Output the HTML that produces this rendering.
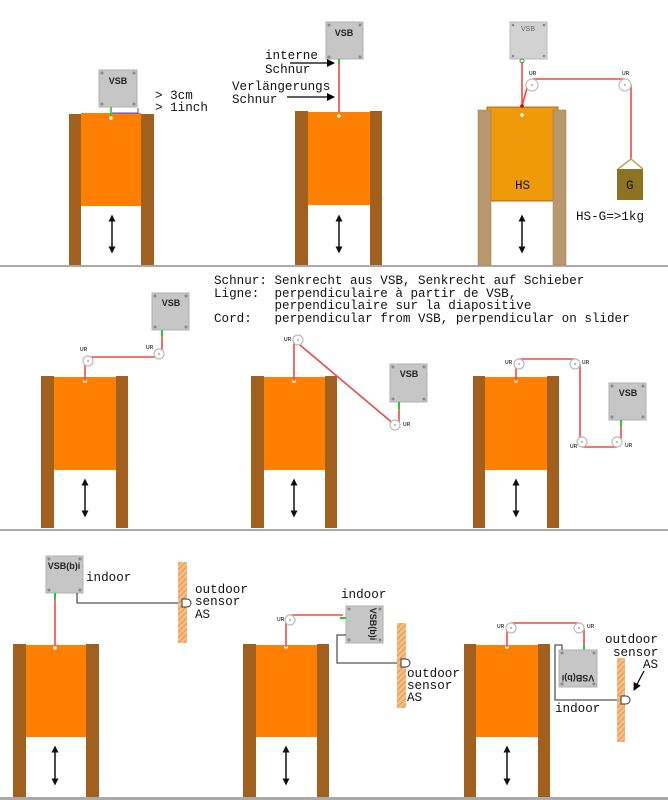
<!DOCTYPE html>
<html><head><meta charset="utf-8"><style>
html,body{margin:0;padding:0;background:#fff;}
svg{display:block;}
.m{font-family:"Liberation Mono",monospace;font-size:12.6px;fill:#111;white-space:pre;}
.v{font-family:"Liberation Sans",sans-serif;font-weight:bold;font-size:9px;fill:#222;}
.ur{font-family:"Liberation Sans",sans-serif;font-size:5px;fill:#444;font-weight:bold;}
.post{fill:#a2601f;}
.door{fill:#ff8000;}
.box{fill:#c6c6c6;stroke:#b0b0b0;stroke-width:1;}
.cd{fill:#888;}
.r{stroke:#f04848;stroke-width:1.6;fill:none;}
.g{stroke:#555;stroke-width:1.3;fill:none;}
.pul{fill:#fff;stroke:#bbb;stroke-width:1.2;}
.wall{fill:url(#hatch);}
</style></head><body>
<svg width="668" height="800" viewBox="0 0 668 800" xmlns="http://www.w3.org/2000/svg" xml:space="preserve">
<defs>
<pattern id="hatch" width="4" height="4" patternUnits="userSpaceOnUse" patternTransform="rotate(45)">
<rect width="4" height="4" fill="#f8bf84"/><rect width="1.5" height="4" fill="#eaa060"/>
</pattern>
<marker id="ah" markerWidth="8" markerHeight="8" refX="7" refY="4" orient="auto" markerUnits="userSpaceOnUse"><path d="M0,0 L8,4 L0,8 z" fill="#000"/></marker>
<marker id="ab" markerWidth="7" markerHeight="7" refX="3.5" refY="3.5" orient="auto-start-reverse" markerUnits="userSpaceOnUse"><path d="M0,0 L7,3.5 L0,7 z" fill="#111"/></marker>
</defs>

<rect x="0" y="265" width="668" height="2" fill="#aaa"/>
<rect x="0" y="529" width="668" height="2" fill="#aaa"/>
<rect x="0" y="797" width="668" height="3" fill="#aaa"/>

<!-- ROW 1 -->
<rect class="door" x="81" y="113" width="60" height="93"/>
<rect class="post" x="69" y="114" width="12" height="151"/>
<rect class="post" x="141" y="114" width="13" height="151"/>
<circle cx="111" cy="118" r="1.8" fill="#fff"/>
<rect class="box" x="99" y="70" width="38" height="37"/>
<circle class="cd" cx="102" cy="73" r="1.5"/><circle class="cd" cx="134" cy="73" r="1.5"/><circle class="cd" cx="102" cy="104" r="1.5"/><circle class="cd" cx="134" cy="104" r="1.5"/>
<text class="v" x="118" y="84" text-anchor="middle">VSB</text>
<line x1="111" y1="107" x2="111" y2="116" stroke="#2c2" stroke-width="1.6"/>
<path d="M112,113 H138 M138,108 V114" stroke="#44f" stroke-width="1" fill="none"/>
<text class="m" x="155" y="99">&gt; 3cm</text>
<text class="m" x="155" y="111">&gt; 1inch</text>
<line x1="112" y1="218" x2="112" y2="250" stroke="#111" stroke-width="1.5" marker-start="url(#ab)" marker-end="url(#ab)"/>

<rect class="door" x="308" y="112" width="62" height="93"/>
<rect class="post" x="295" y="111" width="13" height="154"/>
<rect class="post" x="370" y="111" width="12" height="154"/>
<circle cx="339" cy="116" r="1.8" fill="#fff"/>
<rect class="box" x="326" y="22" width="37" height="37"/>
<circle class="cd" cx="329" cy="25" r="1.5"/><circle class="cd" cx="360" cy="25" r="1.5"/><circle class="cd" cx="329" cy="57" r="1.5"/><circle class="cd" cx="360" cy="57" r="1.5"/>
<text class="v" x="344" y="36" text-anchor="middle">VSB</text>
<line x1="339" y1="64" x2="339" y2="112" class="r"/>
<line x1="339" y1="59" x2="339" y2="64" stroke="#2c2" stroke-width="2"/>
<text class="m" x="265" y="59">interne</text>
<text class="m" x="265" y="73">Schnur</text>
<line x1="290" y1="63" x2="334" y2="63" stroke="#000" stroke-width="1.2" marker-end="url(#ah)"/>
<text class="m" x="232" y="90">Verlängerungs</text>
<text class="m" x="232" y="103">Schnur</text>
<line x1="287" y1="97" x2="334" y2="97" stroke="#000" stroke-width="1.2" marker-end="url(#ah)"/>
<line x1="339" y1="218" x2="339" y2="250" stroke="#111" stroke-width="1.5" marker-start="url(#ab)" marker-end="url(#ab)"/>

<rect x="487" y="107" width="71" height="94" fill="#f09a0a" stroke="#8a5a10" stroke-width="0.8"/>
<rect x="478" y="110" width="13" height="155" fill="#b8986c" stroke="#9a7a50" stroke-width="0.5"/>
<rect x="553" y="110" width="13" height="155" fill="#b8986c" stroke="#9a7a50" stroke-width="0.5"/>
<circle cx="522" cy="115" r="1.8" fill="#fff"/>
<rect x="510" y="22" width="37" height="37" fill="#d2d2d2" stroke="#bbb"/>
<circle class="cd" cx="513" cy="25" r="1.3"/><circle class="cd" cx="544" cy="25" r="1.3"/><circle class="cd" cx="513" cy="56" r="1.3"/><circle class="cd" cx="544" cy="56" r="1.3"/>
<text x="528" y="31" text-anchor="middle" font-family="Liberation Sans,sans-serif" font-size="7" fill="#666">VSB</text>
<line x1="522" y1="62" x2="522" y2="106" class="r"/>
<line x1="522" y1="106" x2="527" y2="88" class="r"/>
<line x1="532" y1="79" x2="625" y2="79" class="r"/>
<line x1="631" y1="85" x2="631" y2="160" class="r"/>
<circle cx="522" cy="106" r="1.8" fill="#c00"/>
<circle cx="522" cy="61" r="2" fill="none" stroke="#2a2" stroke-width="1"/>
<circle class="pul" cx="532" cy="85" r="6"/><circle cx="532" cy="85" r="1" fill="#aaa"/>
<circle class="pul" cx="625" cy="85" r="6"/><circle cx="625" cy="85" r="1" fill="#aaa"/>
<text class="ur" x="529" y="75">UR</text><text class="ur" x="622" y="75">UR</text>
<path d="M618,169 L631,159 L643,169" fill="none" stroke="#c0a060" stroke-width="1.5"/>
<rect x="617" y="169" width="26" height="31" fill="#8b7322"/>
<text class="m" x="626" y="189">G</text>
<text class="m" x="515" y="189">HS</text>
<text class="m" x="576" y="220">HS-G=&gt;1kg</text>
<line x1="522" y1="218" x2="522" y2="250" stroke="#111" stroke-width="1.5" marker-start="url(#ab)" marker-end="url(#ab)"/>

<!-- ROW 2 -->
<text class="m" x="214" y="284">Schnur: Senkrecht aus VSB, Senkrecht auf Schieber</text>
<text class="m" x="214" y="297">Ligne:  perpendiculaire à partir de VSB,</text>
<text class="m" x="214" y="309">        perpendiculaire sur la diapositive</text>
<text class="m" x="214" y="322">Cord:   perpendicular from VSB, perpendicular on slider</text>

<rect class="door" x="54" y="377" width="62" height="93"/>
<rect class="post" x="41" y="376" width="13" height="152"/>
<rect class="post" x="116" y="376" width="12" height="152"/>
<circle cx="85" cy="381" r="1.8" fill="#fff"/>
<path class="r" d="M85,381 V361 M88,357 H158 M162,354 V332"/>
<circle class="pul" cx="88" cy="361" r="5"/><circle cx="88" cy="361" r="1" fill="#aaa"/>
<circle class="pul" cx="159" cy="354" r="5"/><circle cx="159" cy="354" r="1" fill="#aaa"/>
<text class="ur" x="80" y="351">UR</text><text class="ur" x="146" y="349">UR</text>
<rect class="box" x="152" y="293" width="37" height="37"/>
<circle class="cd" cx="155" cy="296" r="1.5"/><circle class="cd" cx="186" cy="296" r="1.5"/><circle class="cd" cx="155" cy="327" r="1.5"/><circle class="cd" cx="186" cy="327" r="1.5"/>
<text class="v" x="171" y="306" text-anchor="middle">VSB</text>
<line x1="162" y1="330" x2="162" y2="336" stroke="#2c2" stroke-width="2"/>
<line x1="85" y1="482" x2="85" y2="514" stroke="#111" stroke-width="1.5" marker-start="url(#ab)" marker-end="url(#ab)"/>

<rect class="door" x="264" y="377" width="61" height="93"/>
<rect class="post" x="251" y="376" width="13" height="152"/>
<rect class="post" x="325" y="376" width="12" height="152"/>
<circle cx="294" cy="381" r="1.8" fill="#fff"/>
<path class="r" d="M294,381 V340 L395,425 M399,425 V406"/>
<circle class="pul" cx="298" cy="340" r="5"/><circle cx="298" cy="340" r="1" fill="#aaa"/>
<circle class="pul" cx="395" cy="425" r="5"/><circle cx="395" cy="425" r="1" fill="#aaa"/>
<text class="ur" x="284" y="341">UR</text><text class="ur" x="403" y="426">UR</text>
<rect class="box" x="390" y="364" width="37" height="38"/>
<circle class="cd" cx="393" cy="367" r="1.5"/><circle class="cd" cx="424" cy="367" r="1.5"/><circle class="cd" cx="393" cy="399" r="1.5"/><circle class="cd" cx="424" cy="399" r="1.5"/>
<text class="v" x="409" y="377" text-anchor="middle">VSB</text>
<line x1="399" y1="402" x2="399" y2="409" stroke="#2c2" stroke-width="2"/>
<line x1="294" y1="482" x2="294" y2="514" stroke="#111" stroke-width="1.5" marker-start="url(#ab)" marker-end="url(#ab)"/>

<rect class="door" x="485" y="377" width="62" height="93"/>
<rect class="post" x="473" y="376" width="12" height="152"/>
<rect class="post" x="547" y="376" width="12" height="152"/>
<circle cx="516" cy="381" r="1.8" fill="#fff"/>
<path class="r" d="M516,381 V364 M519,359 H575 M580,364 V442 M582,447 H617 M621,442 V422"/>
<circle class="pul" cx="519" cy="364" r="5"/><circle cx="519" cy="364" r="1" fill="#aaa"/>
<circle class="pul" cx="575" cy="364" r="5"/><circle cx="575" cy="364" r="1" fill="#aaa"/>
<circle class="pul" cx="582" cy="442" r="5"/><circle cx="582" cy="442" r="1" fill="#aaa"/>
<circle class="pul" cx="617" cy="442" r="5"/><circle cx="617" cy="442" r="1" fill="#aaa"/>
<text class="ur" x="505" y="364">UR</text><text class="ur" x="582" y="364">UR</text>
<text class="ur" x="570" y="448">UR</text><text class="ur" x="625" y="447">UR</text>
<rect class="box" x="609" y="383" width="37" height="37"/>
<circle class="cd" cx="612" cy="386" r="1.5"/><circle class="cd" cx="643" cy="386" r="1.5"/><circle class="cd" cx="612" cy="417" r="1.5"/><circle class="cd" cx="643" cy="417" r="1.5"/>
<text class="v" x="628" y="396" text-anchor="middle">VSB</text>
<line x1="621" y1="420" x2="621" y2="426" stroke="#2c2" stroke-width="2"/>
<line x1="516" y1="482" x2="516" y2="514" stroke="#111" stroke-width="1.5" marker-start="url(#ab)" marker-end="url(#ab)"/>

<!-- ROW 3 -->
<rect class="door" x="26" y="645" width="60" height="92"/>
<rect class="post" x="13" y="644" width="13" height="153"/>
<rect class="post" x="86" y="644" width="13" height="153"/>
<circle cx="55" cy="648" r="1.8" fill="#fff"/>
<line class="r" x1="55" y1="598" x2="55" y2="646"/>
<rect class="box" x="46" y="556" width="37" height="37"/>
<circle class="cd" cx="49" cy="559" r="1.5"/><circle class="cd" cx="80" cy="559" r="1.5"/><circle class="cd" cx="49" cy="590" r="1.5"/><circle class="cd" cx="80" cy="590" r="1.5"/>
<text class="v" x="64" y="569" text-anchor="middle">VSB(b)i</text>
<line x1="55" y1="593" x2="55" y2="599" stroke="#2c2" stroke-width="2"/>
<text class="m" x="86" y="581">indoor</text>
<path class="g" d="M77,593 V603 H183"/>
<rect class="wall" x="178" y="562" width="9" height="81"/>
<path d="M182,599 h5 a4,4 0 0 1 0,8 h-5 z" fill="#fff" stroke="#333" stroke-width="1"/>
<text class="m" x="195" y="593">outdoor</text>
<text class="m" x="195" y="605">sensor</text>
<text class="m" x="195" y="618">AS</text>
<line x1="55" y1="749" x2="55" y2="782" stroke="#111" stroke-width="1.5" marker-start="url(#ab)" marker-end="url(#ab)"/>

<rect class="door" x="256" y="645" width="61" height="92"/>
<rect class="post" x="243" y="644" width="13" height="153"/>
<rect class="post" x="317" y="644" width="12" height="153"/>
<circle cx="286" cy="647" r="1.8" fill="#fff"/>
<path class="r" d="M286,647 V620 M290,615 H343"/>
<circle class="pul" cx="290" cy="620" r="5"/><circle cx="290" cy="620" r="1" fill="#aaa"/>
<text class="ur" x="277" y="621">UR</text>
<line x1="340" y1="618" x2="347" y2="618" stroke="#2c2" stroke-width="2"/>
<rect class="box" x="346" y="606" width="37" height="37"/>
<circle class="cd" cx="349" cy="609" r="1.5"/><circle class="cd" cx="380" cy="609" r="1.5"/><circle class="cd" cx="349" cy="640" r="1.5"/><circle class="cd" cx="380" cy="640" r="1.5"/>
<text class="v" transform="translate(370,624) rotate(90)" text-anchor="middle">VSB(b)i</text>
<text class="m" x="341" y="598">indoor</text>
<path class="g" d="M346,635 H337 V663 H400"/>
<rect class="wall" x="397" y="623" width="9" height="85"/>
<path d="M401,659 h5 a4,4 0 0 1 0,8 h-5 z" fill="#fff" stroke="#333" stroke-width="1"/>
<text class="m" x="407" y="677">outdoor</text>
<text class="m" x="407" y="689">sensor</text>
<text class="m" x="407" y="701">AS</text>
<line x1="286" y1="749" x2="286" y2="782" stroke="#111" stroke-width="1.5" marker-start="url(#ab)" marker-end="url(#ab)"/>

<rect class="door" x="476" y="645" width="62" height="92"/>
<rect class="post" x="464" y="644" width="12" height="153"/>
<rect class="post" x="538" y="644" width="12" height="153"/>
<circle cx="507" cy="647" r="1.8" fill="#fff"/>
<path class="r" d="M507,647 V628 M511,623 H579 M584,628 V647"/>
<circle class="pul" cx="511" cy="628" r="5"/><circle cx="511" cy="628" r="1" fill="#aaa"/>
<circle class="pul" cx="579" cy="628" r="5"/><circle cx="579" cy="628" r="1" fill="#aaa"/>
<text class="ur" x="497" y="628">UR</text><text class="ur" x="587" y="628">UR</text>
<line x1="584" y1="645" x2="584" y2="651" stroke="#2c2" stroke-width="2"/>
<rect class="box" x="559" y="650" width="38" height="37"/>
<circle class="cd" cx="562" cy="653" r="1.5"/><circle class="cd" cx="594" cy="653" r="1.5"/><circle class="cd" cx="562" cy="684" r="1.5"/><circle class="cd" cx="594" cy="684" r="1.5"/>
<text class="v" transform="translate(578,675) rotate(180)" text-anchor="middle">VSB(b)i</text>
<path class="g" d="M562,650 V645 H555 V700 H622"/>
<rect class="wall" x="617" y="658" width="8" height="84"/>
<path d="M621,696 h5 a4,4 0 0 1 0,8 h-5 z" fill="#fff" stroke="#333" stroke-width="1"/>
<text class="m" x="605" y="643">outdoor</text>
<text class="m" x="613" y="656">sensor</text>
<text class="m" x="643" y="668">AS</text>
<line x1="644" y1="671" x2="634" y2="690" stroke="#000" stroke-width="1.2" marker-end="url(#ah)"/>
<text class="m" x="555" y="712">indoor</text>
<line x1="507" y1="749" x2="507" y2="782" stroke="#111" stroke-width="1.5" marker-start="url(#ab)" marker-end="url(#ab)"/>
</svg>
</body></html>
